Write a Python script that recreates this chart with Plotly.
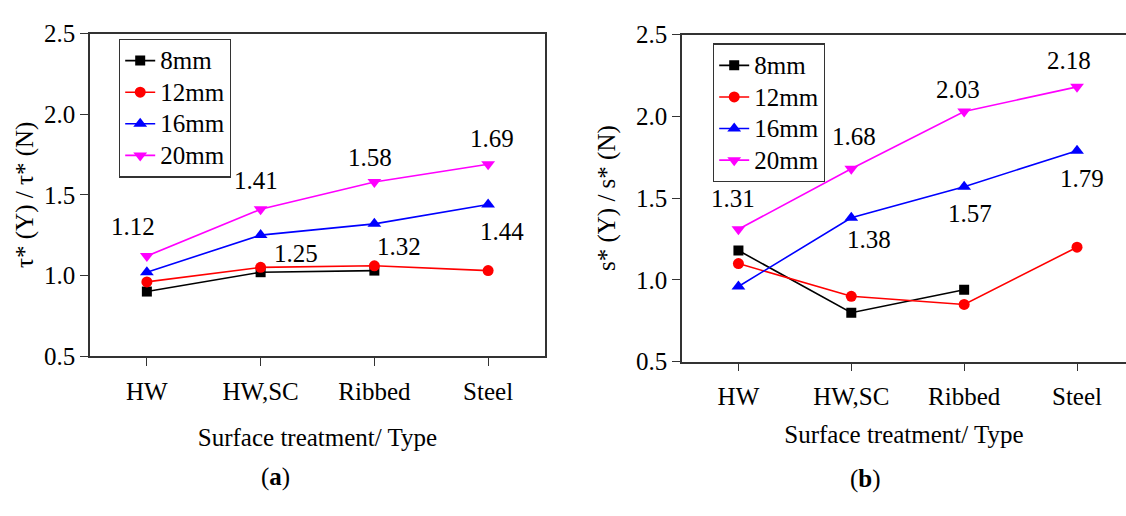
import plotly.graph_objects as go

categories = ["HW", "HW,SC", "Ribbed", "Steel"]
series_names = ["8mm", "12mm", "16mm", "20mm"]

tau_8mm = [0.90, 1.02, 1.03, None]
tau_12mm = [0.96, 1.05, 1.06, 1.03]
tau_16mm = [1.02, 1.25, 1.32, 1.44]
tau_20mm = [1.12, 1.41, 1.58, 1.69]

s_8mm = [1.18, 0.80, 0.94, None]
s_12mm = [1.10, 0.90, 0.85, 1.20]
s_16mm = [0.96, 1.38, 1.57, 1.79]
s_20mm = [1.31, 1.68, 2.03, 2.18]

y_ticks = [0.5, 1.0, 1.5, 2.0, 2.5]

colors = ["#000000", "#ff0000", "#0000ff", "#ff00ff"]
symbols = ["square", "circle", "triangle-up", "triangle-down"]
msizes = [10, 11, 12, 12]

FONT = "Liberation Serif"
FS = 25
LEG_FS = 22


def legend_label(name):
    return f"<span style='font-size:{FS}px'>{name}</span>"


fig = go.Figure()

left_series = [tau_8mm, tau_12mm, tau_16mm, tau_20mm]
right_series = [s_8mm, s_12mm, s_16mm, s_20mm]

for i, (name, vals) in enumerate(zip(series_names, left_series)):
    fig.add_trace(go.Scatter(
        x=categories, y=vals, name=legend_label(name), mode="lines+markers",
        line=dict(color=colors[i], width=1.6),
        marker=dict(symbol=symbols[i], size=msizes[i], color=colors[i]),
        xaxis="x", yaxis="y", legend="legend", connectgaps=False,
    ))
for i, (name, vals) in enumerate(zip(series_names, right_series)):
    fig.add_trace(go.Scatter(
        x=categories, y=vals, name=legend_label(name), mode="lines+markers",
        line=dict(color=colors[i], width=1.6),
        marker=dict(symbol=symbols[i], size=msizes[i], color=colors[i]),
        xaxis="x2", yaxis="y2", legend="legend2", connectgaps=False,
    ))

# value labels (index of category, pixel shifts)
left20_shift = [(-14, 30), (-5, 29), (-4, 24), (4, 26)]
left16_idx = [1, 2, 3]
left16_shift = [(35, -18), (25, -23), (14, -27)]
right20_shift = [(-5, 31), (3, 32), (-6, 22), (-8, 26)]
right16_idx = [1, 2, 3]
right16_shift = [(18, -22), (6, -27), (5, -28)]

annotations = []
def lab(xref, yref, idx, val, shift):
    annotations.append(dict(
        x=categories[idx], y=val, xref=xref, yref=yref,
        text=f"{val:.2f}", showarrow=False,
        xanchor="center", yanchor="middle",
        xshift=shift[0], yshift=shift[1],
        font=dict(family=FONT, size=FS, color="black"),
    ))

for i, v in enumerate(tau_20mm):
    lab("x", "y", i, v, left20_shift[i])
for k, i in enumerate(left16_idx):
    lab("x", "y", i, tau_16mm[i], left16_shift[k])
for i, v in enumerate(s_20mm):
    lab("x2", "y2", i, v, right20_shift[i])
for k, i in enumerate(right16_idx):
    lab("x2", "y2", i, s_16mm[i], right16_shift[k])

annotations.append(dict(x=275 / 1126, y=1 - 490 / 516, xref="paper", yref="paper",
                        xanchor="center", yanchor="middle",
                        text="(<b>a</b>)", showarrow=False,
                        font=dict(family=FONT, size=FS, color="black")))
annotations.append(dict(x=865 / 1126, y=1 - 492 / 516, xref="paper", yref="paper",
                        xanchor="center", yanchor="middle",
                        text="(<b>b</b>)", showarrow=False,
                        font=dict(family=FONT, size=FS, color="black")))

axis_common = dict(
    showline=True, linecolor="#333333", linewidth=1.5,
    ticks="outside", ticklen=8, tickwidth=1.2, tickcolor="#333333",
    showgrid=False, zeroline=False,
    tickfont=dict(family=FONT, size=FS, color="black"),
)

fig.update_layout(
    width=1126, height=516,
    margin=dict(l=0, r=0, t=0, b=0),
    paper_bgcolor="white", plot_bgcolor="white",
    font=dict(family=FONT, size=FS, color="black"),
    xaxis=dict(**axis_common, domain=[90 / 1126, 545 / 1126], anchor="y",
               type="category", range=[-0.5, 3.5], mirror=True,
               ticklabelstandoff=4,
               title=dict(text="Surface treatment/ Type", standoff=25,
                          font=dict(family=FONT, size=FS, color="black"))),
    yaxis=dict(**axis_common, domain=[1 - 362 / 516, 1 - 21.7 / 516], anchor="x",
               range=[0.5, 2.5], tickvals=y_ticks, tickformat=".1f", mirror=True,
               title=dict(text="τ* (Y) / τ* (N)", standoff=3,
                          font=dict(family=FONT, size=FS, color="black"))),
    xaxis2=dict(**axis_common, domain=[682 / 1126, 1.0], anchor="y2",
                type="category", range=[-0.5, 3.434], mirror=True,
                ticklabelstandoff=4,
                title=dict(text="Surface treatment/ Type", standoff=16,
                           font=dict(family=FONT, size=FS, color="black"))),
    yaxis2=dict(**axis_common, domain=[1 - 368 / 516, 1 - 22.7 / 516], anchor="x2",
                range=[0.5, 2.5], tickvals=y_ticks, tickformat=".1f",
                title=dict(text="s* (Y) / s* (N)", standoff=13,
                           font=dict(family=FONT, size=FS, color="black"))),
    legend=dict(x=119 / 1126, y=1 - 27 / 516, xanchor="left", yanchor="top",
                bgcolor="white", bordercolor="#333333", borderwidth=1.2,
                font=dict(family=FONT, size=LEG_FS, color="black"),
                tracegroupgap=0, itemwidth=30),
    legend2=dict(x=713 / 1126, y=1 - 32 / 516, xanchor="left", yanchor="top",
                 bgcolor="white", bordercolor="#333333", borderwidth=1.2,
                 font=dict(family=FONT, size=LEG_FS, color="black"),
                 tracegroupgap=0, itemwidth=30),
    annotations=annotations,
    showlegend=True,
)

fig.write_html("out.html")
